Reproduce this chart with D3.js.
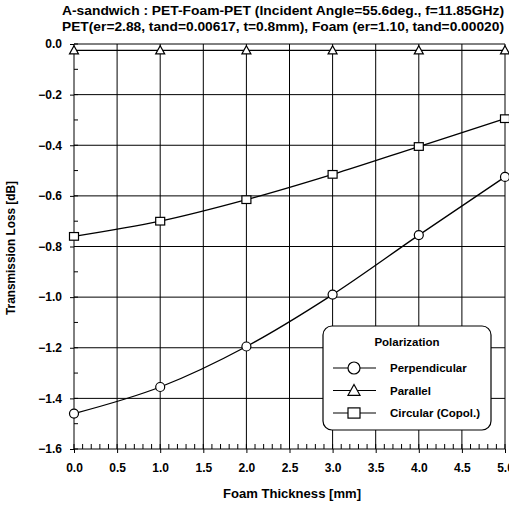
<!DOCTYPE html>
<html>
<head>
<meta charset="utf-8">
<script src="https://cdn.jsdelivr.net/npm/d3@7"></script>
<style>
  body { margin: 0; background: #fff; }
  svg { font-family: "Liberation Sans", Arial, sans-serif; }
</style>
</head>
<body>
<svg width="509" height="506"></svg>
<script>
// values
var thickness = [0, 1, 2, 3, 4, 5];
var perpendicular = [-1.46, -1.355, -1.195, -0.99, -0.755, -0.525];
var parallel = [-0.025, -0.025, -0.025, -0.025, -0.025, -0.025];
var circular = [-0.76, -0.70, -0.615, -0.515, -0.405, -0.295];
var xTicks = [0, 0.5, 1, 1.5, 2, 2.5, 3, 3.5, 4, 4.5, 5];
var yTicks = [0, -0.2, -0.4, -0.6, -0.8, -1.0, -1.2, -1.4, -1.6];
var seriesNames = ["Perpendicular", "Parallel", "Circular (Copol.)"];
var seriesSymbols = ["circle", "triangle", "square"];

var svg = d3.select("svg");
var x = d3.scaleLinear().domain([0, 5]).range([74, 505]);
var y = d3.scaleLinear().domain([-1.6, 0]).range([449, 44]);

// titles
svg.append("text").attr("x", 62).attr("y", 15)
  .attr("font-size", 13.5).attr("font-weight", "bold")
  .attr("textLength", 442).attr("lengthAdjust", "spacingAndGlyphs")
  .text("A-sandwich : PET-Foam-PET (Incident Angle=55.6deg., f=11.85GHz)");
svg.append("text").attr("x", 62).attr("y", 31)
  .attr("font-size", 13.5).attr("font-weight", "bold")
  .attr("textLength", 442).attr("lengthAdjust", "spacingAndGlyphs")
  .text("PET(er=2.88, tand=0.00617, t=0.8mm), Foam (er=1.10, tand=0.00020)");

// grid
var grid = svg.append("g").attr("stroke", "#000").attr("stroke-width", 1);
grid.selectAll(".gx").data(xTicks).enter().append("line")
  .attr("x1", d => x(d)).attr("x2", d => x(d))
  .attr("y1", y(0)).attr("y2", y(-1.6));
grid.selectAll(".gy").data(yTicks).enter().append("line")
  .attr("x1", x(0)).attr("x2", x(5))
  .attr("y1", d => y(d)).attr("y2", d => y(d));

// minor ticks
var minorX = d3.range(0, 51).map(d => d / 10);
var minorY = d3.range(0, 17).map(d => -d / 10);
grid.selectAll(".mx").data(minorX).enter().append("line")
  .attr("x1", d => x(d)).attr("x2", d => x(d))
  .attr("y1", y(-1.6)).attr("y2", y(-1.6) - 5);
grid.selectAll(".my").data(minorY).enter().append("line")
  .attr("x1", x(0)).attr("x2", x(0) + 4)
  .attr("y1", d => y(d)).attr("y2", d => y(d));

// axes labels
var xAxis = d3.axisBottom(x).tickValues(xTicks).tickSize(4).tickFormat(d3.format(".1f"));
var gx = svg.append("g").attr("transform", "translate(0," + y(-1.6) + ")").call(xAxis);
gx.select(".domain").remove();
gx.selectAll("text").attr("font-size", 12).attr("font-weight", "bold")
  .attr("font-family", "Liberation Sans, Arial, sans-serif").attr("dy", "1.3em");

var yAxis = d3.axisLeft(y).tickValues(yTicks).tickSize(4).tickFormat(d3.format(".1f"));
var gy = svg.append("g").attr("transform", "translate(" + x(0) + ",0)").call(yAxis);
gy.select(".domain").remove();
gy.selectAll("text").attr("font-size", 12).attr("font-weight", "bold")
  .attr("font-family", "Liberation Sans, Arial, sans-serif").attr("x", -12);

svg.append("text").attr("x", 292).attr("y", 498).attr("text-anchor", "middle")
  .attr("font-size", 13).attr("font-weight", "bold")
  .attr("textLength", 138).attr("lengthAdjust", "spacingAndGlyphs")
  .text("Foam Thickness [mm]");
svg.append("text").attr("transform", "translate(15,248) rotate(-90)")
  .attr("text-anchor", "middle").attr("font-size", 12.5).attr("font-weight", "bold")
  .attr("textLength", 134).attr("lengthAdjust", "spacingAndGlyphs")
  .text("Transmission Loss [dB]");

// series
var line = d3.line().curve(d3.curveMonotoneX)
  .x((d, i) => x(thickness[i])).y(d => y(d));

function marker(g, type, cx, cy, s) {
  if (type === "circle") {
    g.append("circle").attr("cx", cx).attr("cy", cy).attr("r", s)
      .attr("fill", "#fff").attr("stroke", "#000").attr("stroke-width", 1.2);
  } else if (type === "triangle") {
    g.append("path")
      .attr("d", "M" + cx + "," + (cy - s) + "L" + (cx + s) + "," + (cy + s * 0.8) + "L" + (cx - s) + "," + (cy + s * 0.8) + "Z")
      .attr("fill", "#fff").attr("stroke", "#000").attr("stroke-width", 1.2);
  } else {
    g.append("rect").attr("x", cx - s).attr("y", cy - s * 0.85).attr("width", 2 * s).attr("height", 1.7 * s)
      .attr("fill", "#fff").attr("stroke", "#000").attr("stroke-width", 1.2);
  }
}

var allSeries = [perpendicular, parallel, circular];
allSeries.forEach(function(vals, k) {
  svg.append("path").attr("d", line(vals))
    .attr("fill", "none").attr("stroke", "#000").attr("stroke-width", 1.3);
  var g = svg.append("g");
  vals.forEach(function(v, i) {
    marker(g, seriesSymbols[k], x(thickness[i]), y(v), 4.5);
  });
});

// legend
var lg = svg.append("g");
lg.append("rect").attr("x", 323).attr("y", 326).attr("width", 168).attr("height", 104)
  .attr("rx", 9).attr("fill", "#fff").attr("stroke", "#000").attr("stroke-width", 1.2);
lg.append("text").attr("x", 407).attr("y", 346).attr("text-anchor", "middle")
  .attr("font-size", 11.5).attr("font-weight", "bold").text("Polarization");
seriesNames.forEach(function(name, k) {
  var ly = 368 + k * 22.5;
  lg.append("line").attr("x1", 333).attr("x2", 376).attr("y1", ly).attr("y2", ly)
    .attr("stroke", "#000").attr("stroke-width", 1.2);
  marker(lg, seriesSymbols[k], 354, ly, 6);
  lg.append("text").attr("x", 390).attr("y", ly + 4).attr("font-size", 11.5)
    .attr("font-weight", "bold").text(name);
});
</script>
</body>
</html>
